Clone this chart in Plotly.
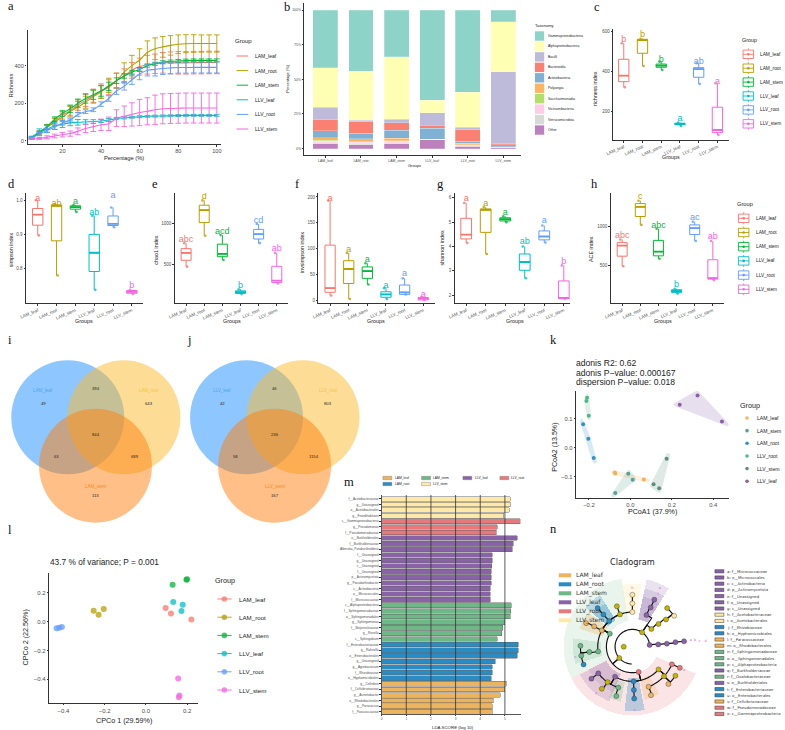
import numpy as np
import plotly.graph_objects as go

W, H = 785, 730
SANS = "Liberation Sans"
SERIF = "Liberation Serif"
DEJAVU = "DejaVu Sans"
AXIS_DARK = "#333333"
TICK_TEXT = "#4D4D4D"
MINUS = "\u2212"

GROUPS = ["LAM_leaf", "LAM_root", "LAM_stem", "LLV_leaf", "LLV_root", "LLV_stem"]
GROUP_COLORS = ["#F8766D", "#B79F00", "#00BA38", "#00BFC4", "#619CFF", "#F564E3"]

# --- rarefaction curves -------------------------------------------------
PERCENT = [4, 8, 12, 16, 20, 24, 28, 32, 36, 40, 44, 48, 52, 56, 60, 64, 68, 72, 76, 80, 84, 88, 92, 96, 100]
RICH_LAM_LEAF = [15, 45, 75, 105, 135, 160, 190, 215, 240, 265, 285, 320, 345, 375, 395, 405, 410, 415, 415, 415, 415, 416, 416, 417, 417]
RICH_LAM_ROOT = [12, 40, 70, 100, 125, 155, 180, 205, 235, 260, 295, 320, 365, 400, 430, 470, 490, 500, 508, 514, 517, 518, 518, 518, 518]
RICH_LAM_STEM = [15, 45, 75, 115, 145, 170, 200, 225, 245, 265, 290, 320, 345, 365, 380, 400, 410, 418, 422, 425, 427, 428, 428, 428, 428]
RICH_LLV_LEAF = [18, 45, 62, 78, 88, 95, 98, 100, 102, 105, 110, 118, 122, 125, 128, 130, 131, 132, 133, 134, 135, 135, 135, 135, 135]
RICH_LLV_ROOT = [14, 35, 55, 72, 95, 110, 140, 155, 165, 195, 225, 265, 290, 325, 355, 375, 380, 385, 388, 390, 390, 391, 391, 391, 391]
RICH_LLV_STEM = [10, 12, 18, 25, 32, 38, 50, 65, 75, 85, 90, 120, 130, 140, 150, 157, 165, 170, 172, 173, 174, 174, 174, 174, 174]
ERR_LAM_LEAF = [5, 8, 12, 15, 20, 25, 28, 32, 35, 38, 40, 40, 38, 42, 45, 50, 52, 55, 58, 60, 60, 60, 60, 60, 60]
ERR_LAM_ROOT = [5, 8, 12, 18, 22, 28, 30, 32, 35, 35, 38, 40, 50, 55, 60, 62, 58, 55, 52, 50, 48, 47, 46, 46, 46]
ERR_LAM_STEM = [5, 6, 10, 12, 15, 20, 22, 25, 25, 28, 22, 15, 12, 10, 10, 8, 8, 8, 8, 8, 8, 8, 8, 8, 8]
ERR_LLV_LEAF = [6, 18, 18, 18, 18, 15, 15, 12, 10, 8, 8, 6, 6, 5, 5, 5, 5, 5, 5, 5, 5, 5, 5, 5, 5]
ERR_LLV_ROOT = [5, 8, 10, 12, 12, 10, 10, 10, 10, 12, 15, 18, 20, 25, 30, 30, 35, 32, 32, 30, 30, 30, 30, 30, 30]
ERR_LLV_STEM = [4, 5, 8, 10, 12, 14, 18, 22, 26, 30, 36, 45, 55, 62, 70, 72, 78, 80, 80, 80, 80, 80, 80, 80, 80]

# --- class-level composition (percent per group) ------------------------
TAXA = ["Gammaproteobacteria", "Alphaproteobacteria", "Bacilli", "Bacteroidia", "Actinobacteria",
        "Polyangia", "Saccharimonadia", "Vicinamibacteria", "Verrucomicrobiia", "Other"]
TAXA_COLORS = ["#8DD3C7", "#FFFFB3", "#BEBADA", "#FB8072", "#80B1D3", "#FDB462", "#B3DE69", "#FCCDE5", "#D9D9D9", "#BC80BD"]
COMP_LAM_LEAF = [41.7, 28.4, 9.2, 8.0, 4.8, 2.0, 0.5, 1.2, 0.7, 3.5]
COMP_LAM_ROOT = [44.3, 35.4, 1.0, 8.2, 4.1, 1.9, 0.5, 1.0, 0.7, 2.9]
COMP_LAM_STEM = [33.6, 45.3, 2.4, 5.3, 6.0, 1.7, 0.5, 1.0, 0.6, 3.6]
COMP_LLV_LEAF = [65.0, 9.2, 8.9, 2.2, 8.0, 0.0, 0.0, 0.0, 0.0, 6.7]
COMP_LLV_ROOT = [59.3, 25.3, 1.7, 8.4, 1.4, 1.2, 0.3, 0.5, 0.3, 1.5]
COMP_LLV_STEM = [8.4, 36.1, 52.0, 0.7, 1.4, 0.1, 0.1, 0.1, 0.1, 0.9]

# --- alpha diversity box statistics: low, q1, median, q3, high ----------
RICHNESS_STATS = [[322, 350, 380, 462, 542], [428, 492, 558, 562, 565], [408, 422, 430, 438, 450],
                  [128, 135, 138, 142, 145], [338, 372, 413, 420, 442], [83, 95, 108, 222, 342]]
RICHNESS_LETTERS = ["b", "b", "b", "a", "ab", "a"]
RICHNESS_LETTER_Y = [558, 583, 462, 162, 448, 348]

SIMPSON_STATS = [[.897, .927, .958, .976, 1.0], [.779, .881, .984, .986, .988], [.966, .974, .980, .984, .986],
                 [.737, .791, .846, .900, .955], [.921, .926, .931, .954, .979], [.725, .727, .731, .735, .737]]
SIMPSON_LETTERS = ["a", "ab", "a", "ab", "a", "b"]
SIMPSON_LETTER_Y = [1.005, .99, .995, .964, 1.014, .748]

CHAO1_STATS = [[477, 554, 643, 694, 760], [849, 1008, 1159, 1217, 1275], [558, 597, 632, 748, 857],
               [147, 155, 171, 186, 205], [760, 810, 868, 926, 992], [275, 287, 310, 481, 643]]
CHAO1_LETTERS = ["abc", "d", "acd", "b", "cd", "ab"]
CHAO1_LETTER_Y = [802, 1322, 899, 244, 1027, 694]

INVSIMPSON_STATS = [[10, 16, 24, 107, 193], [3, 33, 61, 77, 92], [31, 43, 57, 65, 72],
                    [3, 6.5, 12, 17, 24], [12, 12, 16, 30, 43], [1.3, 1.3, 4, 6, 7]]
INVSIMPSON_LETTERS = ["a"] * 6
INVSIMPSON_LETTER_Y = [197, 99, 79, 29, 51, 12]

SHANNON_STATS = [[4.14, 4.31, 4.49, 5.16, 5.79], [3.69, 4.58, 5.52, 5.53, 5.62], [5.0, 5.05, 5.12, 5.18, 5.24],
                 [2.69, 3.02, 3.36, 3.69, 4.0], [4.16, 4.27, 4.41, 4.64, 4.86], [1.85, 1.85, 1.88, 2.58, 3.22]]
SHANNON_LETTERS = ["a", "a", "a", "ab", "a", "b"]
SHANNON_LETTER_Y = [5.97, 5.75, 5.38, 4.19, 5.04, 3.38]

ACE_STATS = [[487, 617, 754, 792, 833], [1021, 1129, 1254, 1296, 1333], [583, 621, 675, 821, 971],
             [133, 146, 167, 183, 196], [812, 896, 979, 1021, 1062], [308, 321, 333, 571, 812]]
ACE_LETTERS = ["abc", "c", "abc", "b", "ac", "ab"]
ACE_LETTER_Y = [875, 1387, 1012, 242, 1117, 867]

# --- Venn counts --------------------------------------------------------
VENN_I_NAMES = ["LAM_leaf", "LAM_root", "LAM_stem"]
VENN_I_COUNTS = [49, 643, 113, 394, 63, 689, 844]
VENN_J_NAMES = ["LLV_leaf", "LLV_root", "LLV_stem"]
VENN_J_COUNTS = [42, 803, 167, 46, 58, 1154, 236]

# --- PCoA coordinates ---------------------------------------------------
PCOA_GROUPS = ["LAM_leaf", "LAM_stem", "LAM_root", "LLV_root", "LLV_stem", "LLV_leaf"]
PCOA_COLORS = ["#F0B35A", "#5A9E96", "#2E94C8", "#52B788", "#5F8F80", "#8B5FA8"]
PCOA_X = [[-.075, -.073, .065], [-.010, .011, -.073], [-.228, -.203, -.177],
          [-.209, -.212, -.201], [.175, .112, .139], [.324, .238, .442]]
PCOA_Y = [[-.085, -.088, -.109], [-.089, -.110, -.155], [.080, .031, -.035],
          [.171, .160, .109], [-.038, -.125, -.139], [.179, .147, .090]]

# --- constrained PCoA coordinates ---------------------------------------
CPCO_X = [[.096, .122, .221], [-.253, -.229, -.204], [.130, .197, .200],
          [.133, .179, .173], [-.433, -.420, -.407], [.157, .163, .160]]
CPCO_Y = [[.095, .056, .016], [.076, .049, .088], [.257, .292, .294],
          [.137, .118, .074], [-.046, -.042, -.037], [-.394, -.512, -.525]]

# --- LEfSe LDA scores, top to bottom ------------------------------------
LDA_GROUP_ORDER = ["LLV_stem", "LLV_root", "LLV_leaf", "LAM_stem", "LAM_root", "LAM_leaf"]
LEFSE_COLORS = {"LAM_leaf": "#EDB45F", "LAM_root": "#2A8CC4", "LAM_stem": "#6DB887",
                "LLV_leaf": "#8A62A8", "LLV_root": "#E7787C", "LLV_stem": "#FFE9A8"}
LDA_LABELS = ["f__Acetobacteraceae", "g__Unassigned", "o__Acetobacterales", "g__Frondihabitans",
              "c__Gammaproteobacteria", "g__Pseudomonas", "f__Pseudomonadaceae",
              "o__Burkholderiales", "f__Burkholderiaceae", "Alberetia_Paraburkholderia", "f__Unassigned",
              "g__Unassigned", "c__Unassigned", "f__Unassigned", "p__Actinomycetota", "g__Pseudarthrobacter",
              "c__Actinobacteria", "o__Micrococcales", "f__Micrococcaceae",
              "c__Alphaproteobacteria", "f__Sphingomonadaceae", "o__Sphingomonadales", "g__Sphingomonas",
              "f__Beijerinckiaceae", "g__Rosella", "c__Sphingobium",
              "f__Enterobacteriaceae", "g__Rahnella", "o__Enterobacterales", "g__Unassigned",
              "g__Agrobacterium", "f__Rhizobiaceae", "o__Hyphomicrobiales",
              "g__Cellvibrio", "f__Cellvibrionaceae", "g__Acinetobacter", "o__Rhodobacterales",
              "g__Paracoccus", "f__Paracoccaceae"]
LDA_SCORES = [5.21, 5.22, 5.17, 4.95, 5.62, 4.69, 4.65, 5.50, 5.33, 5.29, 4.48, 4.48, 4.46, 4.45, 4.44, 4.44,
              4.41, 4.41, 4.40, 5.25, 5.23, 5.21, 5.00, 4.91, 4.88, 4.69, 5.54, 5.54, 5.51, 4.61, 4.48, 4.48,
              4.45, 5.05, 5.00, 4.81, 4.53, 4.48, 4.48]
LDA_COUNTS = [4, 3, 12, 7, 7, 6]

# --- cladogram tree: angle (deg), level, parent index, clade ------------
TREE_ANGLE = [180, 221, 56, 6, 150, 284, 43, 5, 111, 132, 152, 188, 240, 272, 319, 66, 41, 5, 90,
              111, 132, 152, 187, 218, 235, 251, 272, 292, 317, 336, 65, 39, 6, 90,
              90, 132, 153, 179, 190, 200, 218, 234, 252, 272, 291, 314, 326, 336, 65, 48, 36.5, 6]
TREE_LEVEL = [1, 2, 2, 2, 3, 3, 3, 3, 4, 4, 4, 4, 4, 4, 4, 4, 4, 4, 4,
              5, 5, 5, 5, 5, 5, 5, 5, 5, 5, 5, 5, 5, 5, 5,
              6, 6, 6, 6, 6, 6, 6, 6, 6, 6, 6, 6, 6, 6, 6, 6, 6, 6]
TREE_PARENT = [-1, -1, -1, -1, 1, 1, 2, 3, 4, 4, 4, 4, 5, 5, 5, 2, 6, 7, 4,
               8, 9, 10, 11, 12, 12, 12, 13, 14, 14, 14, 15, 16, 17, 18,
               33, 20, 21, 22, 22, 22, 23, 24, 25, 26, 27, 28, 28, 29, 30, 31, 31, 32]
TREE_CLADE = ["none", "none", "none", "LLV_leaf", "LAM_stem", "LLV_root", "none", "LLV_leaf",
              "none", "LAM_root", "LAM_leaf", "LAM_stem", "LLV_leaf", "LAM_root", "none", "LLV_leaf", "none",
              "LLV_leaf", "LLV_stem",
              "none", "LAM_root", "LAM_leaf", "LAM_stem", "LLV_leaf", "none", "LAM_stem", "LAM_root", "LAM_leaf",
              "none", "LLV_root", "LLV_leaf", "none", "LLV_leaf", "LLV_stem",
              "LLV_stem", "LAM_root", "LAM_leaf", "LAM_stem", "LAM_stem", "LAM_root", "LLV_leaf", "none",
              "LAM_stem", "LAM_root", "LAM_leaf", "LAM_leaf", "none", "LLV_root", "LLV_leaf", "none",
              "LLV_stem", "LLV_leaf"]
WEDGE_CLADE = ["LLV_root", "LAM_stem", "LLV_leaf", "LLV_leaf", "LLV_leaf", "LLV_stem", "LAM_root", "LAM_root",
               "LAM_leaf", "LAM_stem", "LLV_leaf", "LLV_leaf", "LAM_stem", "LAM_root", "LAM_leaf"]
WEDGE_START = [207, 99, 58, 58, 58, 82, 122, 122, 142, 172, 208, 208, 245, 263, 283]
WEDGE_END = [337, 207, 78, 78, 78, 100, 140, 140, 161, 197, 247, 247, 258, 281, 300]
WEDGE_INNER = [79, 79, 85, 85, 85, 100, 95, 95, 95, 95, 90, 90, 110, 95, 100]
WEDGE_OUTER = [208, 208, 208, 180, 155, 190, 185, 155, 170, 180, 180, 150, 170, 195, 165]
WEDGE_ALPHA = [.2, .16, .18, .18, .2, .3, .25, .25, .3, .2, .2, .15, .25, .3, .25]
CLADE_KEYS = ["a: f__Micrococcaceae", "b: o__Micrococcales", "c: c__Actinobacteria", "d: p__Actinomycetota",
              "e: f__Unassigned", "f: o__Unassigned", "g: c__Unassigned", "h: f__Acetobacteraceae",
              "i: o__Acetobacterales", "j: f__Rhizobiaceae", "k: o__Hyphomicrobiales", "l: f__Paracoccaceae",
              "m: o__Rhodobacterales", "n: f__Sphingomonadaceae", "o: o__Sphingomonadales",
              "p: c__Alphaproteobacteria", "q: f__Burkholderiaceae", "r: f__Oxalobacteraceae",
              "s: o__Burkholderiales", "t: f__Enterobacteriaceae", "u: o__Enterobacterales",
              "v: f__Cellvibrionaceae", "w: f__Pseudomonadaceae", "x: c__Gammaproteobacteria"]
CLADE_KEY_GROUP = ["LLV_leaf"] * 7 + ["LLV_stem"] * 2 + ["LAM_root"] * 2 + ["LAM_leaf"] * 2 + ["LAM_stem"] * 3 + \
                  ["LLV_leaf", "LAM_stem", "LLV_leaf", "LAM_root", "LAM_root", "LAM_leaf", "LLV_root", "LLV_root"]
OUTER_TAGS = ["a", "b", "c", "d", "e", "f", "h", "j", "n", "q", "s", "x"]
OUTER_TAG_ANGLE = [6, 6, 5, 4, 65, 64, 90, 132, 190, 232, 272, 336]
OUTER_TAG_RADIUS = [178, 190, 205, 222, 196, 178, 178, 172, 175, 178, 192, 172]


def fx(px):
    return px / W


def fy(py):
    return 1 - py / H


def rgba(hex_color, alpha):
    r, g, b = (int(hex_color[i:i + 2], 16) for i in (1, 3, 5))
    return f"rgba({r},{g},{b},{alpha})"


fig = go.Figure()
annotations, shapes, axis_layout = [], [], {}
next_axis = [1]


def note(px, py, text, size=6.0, color="#222222", anchor="left", angle=0, family=SANS):
    # annotation boxes carry 2 px of padding on the text's left side
    px = px - 2 if anchor == "left" else px
    annotations.append(dict(x=fx(px), y=fy(py), xref="paper", yref="paper", text=text, showarrow=False,
                            xanchor=anchor, yanchor="middle", textangle=angle, align=anchor,
                            font=dict(size=size, color=color, family=family)))


def make_axes(left, right, top, bottom, xrange, yrange, xticks=None, yticks=None, xtext=None, ytext=None,
              xtitle=None, ytitle=None, tick_size=5.0, title_size=6.0, xangle=0, line_color=AXIS_DARK,
              line_width=1.2):
    n = next_axis[0]
    next_axis[0] += 1
    ax = "" if n == 1 else str(n)
    common = dict(showgrid=False, zeroline=False, showline=True, linecolor=line_color, linewidth=line_width,
                  ticks="outside", ticklen=1.5, tickwidth=0.6, tickcolor=AXIS_DARK, tickmode="array",
                  tickfont=dict(size=tick_size, color=TICK_TEXT, family=SANS))
    axis_layout[f"xaxis{ax}"] = dict(domain=[fx(left), fx(right)], range=xrange, anchor=f"y{ax}", tickvals=xticks,
                                     ticktext=xtext, tickangle=xangle, **common)
    axis_layout[f"yaxis{ax}"] = dict(domain=[fy(bottom), fy(top)], range=yrange, anchor=f"x{ax}", tickvals=yticks,
                                     ticktext=ytext, **common)
    if xtitle:
        note(xtitle[1], xtitle[2], xtitle[0], title_size, "#222222", "center")
    if ytitle:
        note(ytitle[1], ytitle[2], ytitle[0], title_size, "#222222", "center", -90)
    return f"x{ax}", f"y{ax}"


def rect(x0, y0, x1, y1, fill="rgba(0,0,0,0)", line="rgba(0,0,0,0)", width=0.6):
    shapes.append(dict(type="rect", xref="paper", yref="paper", x0=fx(x0), x1=fx(x1), y0=fy(y0), y1=fy(y1),
                       fillcolor=fill, line=dict(color=line, width=width)))


def segment(x0, y0, x1, y1, color, width=1.0):
    shapes.append(dict(type="line", xref="paper", yref="paper", x0=fx(x0), x1=fx(x1), y0=fy(y0), y1=fy(y1),
                       line=dict(color=color, width=width)))


def disc(cx, cy, r, fill, line="rgba(0,0,0,0)"):
    shapes.append(dict(type="circle", xref="paper", yref="paper", x0=fx(cx - r), x1=fx(cx + r),
                       y0=fy(cy + r), y1=fy(cy - r), fillcolor=fill, line=dict(color=line, width=0.5)))


# ---------- a: rarefaction curves ----------
xa, ya = make_axes(20.7, 216, 30, 144, [1.9, 102.2], [-17.6, 590], [20, 40, 60, 80, 100], [0, 200, 400],
                   xtitle=("Percentage (%)", 118, 158), ytitle=("Richness", 3.6, 86), tick_size=5.6, title_size=5.8)
curves = [RICH_LAM_LEAF, RICH_LAM_ROOT, RICH_LAM_STEM, RICH_LLV_LEAF, RICH_LLV_ROOT, RICH_LLV_STEM]
errors = [ERR_LAM_LEAF, ERR_LAM_ROOT, ERR_LAM_STEM, ERR_LLV_LEAF, ERR_LLV_ROOT, ERR_LLV_STEM]
for name, color, vals, err in zip(GROUPS, GROUP_COLORS, curves, errors):
    fig.add_trace(go.Scatter(x=PERCENT, y=vals, mode="lines", name=name, xaxis=xa, yaxis=ya, showlegend=False,
                             line=dict(color=color, width=1.1, shape="spline"),
                             error_y=dict(type="data", array=err, color=color, thickness=0.9, width=2.8)))
note(230.3, 41.3, "Group", 6)
for i, (name, color) in enumerate(zip(GROUPS, GROUP_COLORS)):
    y = 56 + 14.6 * i
    segment(231.7, y, 243.3, y, color, 1)
    note(250, y, name, 5)

# ---------- b: stacked composition ----------
xb, yb = make_axes(300, 518.7, 3, 155, [-0.593, 5.5], [-4.65, 105.2], list(range(6)), [0, 25, 50, 75, 100],
                   GROUPS, ["0%", "25%", "50%", "75%", "100%"], xtitle=("Groups", 411, 165.3),
                   ytitle=("Percentage (%)", 283.3, 79), tick_size=3.5, title_size=4, line_width=1)
composition = [COMP_LAM_LEAF, COMP_LAM_ROOT, COMP_LAM_STEM, COMP_LLV_LEAF, COMP_LLV_ROOT, COMP_LLV_STEM]
for k in range(len(TAXA) - 1, -1, -1):
    fig.add_trace(go.Bar(x=list(range(6)), y=[c[k] for c in composition], name=TAXA[k], xaxis=xb, yaxis=yb,
                         width=0.7, showlegend=False,
                         marker=dict(color=TAXA_COLORS[k], line=dict(color="rgba(255,255,255,0.6)", width=0.4))))
note(532.3, 25.7, "Taxonomy", 4.1)
for i, (name, color) in enumerate(zip(TAXA, TAXA_COLORS)):
    y = 36 + 10.45 * i
    rect(532.7, y - 4.7, 542, y + 4.7, color)
    note(546, y, name, 3.5)


# ---------- c-h: alpha diversity boxplots ----------
def box_panel(left, right, top, bottom, center0, step, stats, letters, letter_y, ylim, yticks, ytext,
              xtitle_at, ytitle, ytitle_at, box_frac=0.55):
    xr = [(left - center0) / step, (right - center0) / step]
    xx, yy = make_axes(left, right, top, bottom, xr, ylim, list(range(6)), yticks, GROUPS, ytext,
                       xtitle=("Groups", *xtitle_at), ytitle=(ytitle, *ytitle_at),
                       tick_size=4.5, title_size=5.4, xangle=-24)
    half = box_frac / 2
    for i, (color, st) in enumerate(zip(GROUP_COLORS, stats)):
        low, q1, med, q3, high = st
        fig.add_trace(go.Box(x=[i], lowerfence=[low], q1=[q1], median=[med], q3=[q3], upperfence=[high],
                             xaxis=xx, yaxis=yy, width=box_frac, whiskerwidth=0, fillcolor="rgba(0,0,0,0)",
                             line=dict(color=color, width=1), name=GROUPS[i], showlegend=False))
        fig.add_trace(go.Scatter(x=[i - half, i + half], y=[med, med], mode="lines", xaxis=xx, yaxis=yy,
                                 line=dict(color=color, width=1.8), showlegend=False, hoverinfo="skip"))
        fig.add_trace(go.Scatter(x=[i + 0.06, i - 0.1], y=[low, high], mode="markers", xaxis=xx, yaxis=yy,
                                 marker=dict(color=color, size=2.6, opacity=0.8), showlegend=False, hoverinfo="skip"))
    fig.add_trace(go.Scatter(x=list(range(6)), y=letter_y, mode="text", text=letters, xaxis=xx, yaxis=yy,
                             textposition="middle center", showlegend=False, hoverinfo="skip",
                             textfont=dict(size=9, color=GROUP_COLORS, family=SANS)))


box_panel(611.7, 728, 29.3, 140, 622.3, 18.9, RICHNESS_STATS, RICHNESS_LETTERS, RICHNESS_LETTER_Y,
          [58, 612], [200, 400, 600], ["200", "400", "600"], (670, 156.7), "richness index", (594, 88.3))
box_panel(19.3, 137.7, 193, 303.3, 31, 19, SIMPSON_STATS, SIMPSON_LETTERS, SIMPSON_LETTER_Y,
          [.6975, 1.0215], [.8, .9, 1.0], ["0.8", "0.9", "1.0"], (78, 321), "simpson index", (4.3, 250))
box_panel(169.3, 284, 193, 303.3, 180.7, 18.3, CHAO1_STATS, CHAO1_LETTERS, CHAO1_LETTER_Y,
          [36, 1364], [500, 1000], ["500", "1000"], (226.7, 321), "chao1 index", (150, 250))
box_panel(314.3, 431.7, 193, 303.3, 326, 18.8, INVSIMPSON_STATS, INVSIMPSON_LETTERS, INVSIMPSON_LETTER_Y,
          [-5.2, 207.7], [0, 50, 100, 150, 200], ["0", "50", "100", "150", "200"], (372.7, 321),
          "invsimpson index", (297.7, 252))
box_panel(451.7, 568, 193, 303.3, 463.3, 19.7, SHANNON_STATS, SHANNON_LETTERS, SHANNON_LETTER_Y,
          [1.66, 6.2], [2, 3, 4, 5, 6], ["2", "3", "4", "5", "6"], (512.7, 321), "shannon index", (439.3, 248))
box_panel(609.3, 723.3, 193, 303.3, 620.7, 18.3, ACE_STATS, ACE_LETTERS, ACE_LETTER_Y,
          [8, 1433], [500, 1000], ["500", "1000"], (661.7, 320.7), "ACE index", (589.3, 249))


def box_legend(title_x, title_y, cx, y0, step, label_x, label_size, title_size):
    note(title_x, title_y, "Group", title_size)
    for i, (name, color) in enumerate(zip(GROUPS, GROUP_COLORS)):
        y = y0 + step * i
        segment(cx, y - 6, cx, y + 6, color, 0.8)
        rect(cx - 5.3, y - 4.2, cx + 5.3, y + 4.2, "white", color, 0.9)
        segment(cx - 5.3, y, cx + 5.3, y, color, 0.9)
        disc(cx, y, 1.3, color)
        note(label_x, y, name, label_size)


box_legend(741.7, 40, 748, 54.3, 13.9, 760, 4.8, 5.4)
box_legend(736.7, 204.3, 743.3, 218.3, 14.2, 755.7, 4.75, 5.7)

# ---------- i, j: Venn diagrams ----------
VENN_FILLS = ["rgba(30,144,255,0.5)", "rgba(252,185,45,0.5)", "rgba(255,127,14,0.5)"]
VENN_TEXT = ["#4AA3F5", "#F7C33F", "#F58B2B"]


def venn(left_cx, right_cx, low_cx, names, counts):
    top_cy, low_cy, radius = 417.3, 465.7, 57
    for cx, cy, fill in zip([left_cx, right_cx, low_cx], [top_cy, top_cy, low_cy], VENN_FILLS):
        disc(cx, cy, radius, fill)
    note(left_cx - 24.6, 390, names[0], 4.5, VENN_TEXT[0], "center")
    note(right_cx + 25.3, 390, names[1], 4.5, VENN_TEXT[1], "center")
    note(low_cx, 486.3, names[2], 4.5, VENN_TEXT[2], "center")
    note(left_cx - 24.6, 403, str(counts[0]), 4.2, "#222222", "center")
    note(right_cx + 25.3, 403, str(counts[1]), 4.2, "#222222", "center")
    note(low_cx, 495.3, str(counts[2]), 4.2, "#222222", "center")
    note(low_cx, 388.5, str(counts[3]), 4.2, "#222222", "center")
    note(low_cx - 39.3, 456.7, str(counts[4]), 4.2, "#222222", "center")
    note(low_cx + 40, 456.7, str(counts[5]), 4.2, "#222222", "center")
    note(low_cx, 434, str(counts[6]), 4.2, "#222222", "center")


venn(61.3, 118, 89.3, VENN_I_NAMES, VENN_I_COUNTS)
venn(241.7, 298.7, 270, VENN_J_NAMES, VENN_J_COUNTS)


# ---------- k: PCoA with group hulls ----------
def convex_hull(points):
    pts = sorted(set(points))

    def half(seq):
        out = []
        for p in seq:
            while len(out) > 1 and (out[-1][0] - out[-2][0]) * (p[1] - out[-2][1]) - \
                    (out[-1][1] - out[-2][1]) * (p[0] - out[-2][0]) <= 0:
                out.pop()
            out.append(p)
        return out[:-1]

    return half(pts) + half(pts[::-1])


PCOA_X_SCALE, PCOA_Y_SCALE = 209.0, 291.7   # pixels per data unit
xk, yk = make_axes(574.3, 728.3, 391, 497.7, [-.2616, .475], [-.171, .194], [-.2, 0, .2, .4], [-.1, 0, .1],
                   [MINUS + "0.2", "0.0", "0.2", "0.4"], [MINUS + "0.1", "0.0", "0.1"],
                   xtitle=("PCoA1 (37.9%)", 651.7, 511.7), ytitle=("PCoA2 (13.5%)", 553, 447.7),
                   tick_size=5.8, title_size=7.1, line_width=0.9)
circle = np.linspace(0, 2 * np.pi, 16, endpoint=False)
for name, color, xs, ys in zip(PCOA_GROUPS, PCOA_COLORS, PCOA_X, PCOA_Y):
    xs, ys = np.array(xs), np.array(ys)
    cx, cy = xs.mean(), ys.mean()
    grown_x = (cx + (xs - cx) * 1.2) * PCOA_X_SCALE
    grown_y = (cy + (ys - cy) * 1.2) * PCOA_Y_SCALE
    cloud = [(float(gx + 2.2 * np.cos(a)), float(gy + 2.2 * np.sin(a))) for gx, gy in zip(grown_x, grown_y) for a in circle]
    hull = convex_hull(cloud)
    hull.append(hull[0])
    fig.add_trace(go.Scatter(x=[p[0] / PCOA_X_SCALE for p in hull], y=[p[1] / PCOA_Y_SCALE for p in hull],
                             mode="lines", fill="toself", xaxis=xk, yaxis=yk, line=dict(color="rgba(0,0,0,0)", width=0),
                             fillcolor=rgba(color, 0.2), showlegend=False, hoverinfo="skip"))
    fig.add_trace(go.Scatter(x=xs, y=ys, mode="markers", name=name, xaxis=xk, yaxis=yk, showlegend=False,
                             marker=dict(color=color, size=4)))
note(574.3, 363.3, "adonis R2: 0.62", 8.6)
note(574.3, 372.7, f"adonis P{MINUS}value: 0.000167", 8.6)
note(574.3, 382, f"dispersion P{MINUS}value: 0.018", 8.6)
note(740, 405, "Group", 7.2)
for i, (name, color) in enumerate(zip(PCOA_GROUPS, PCOA_COLORS)):
    y = 418 + 12.65 * i
    disc(746.7, y, 1.8, color)
    note(757, y, name, 5.1)

# ---------- l: constrained PCoA ----------
xl, yl = make_axes(42.7, 192.7, 573.3, 702.7, [-.468, .253], [-.5625, .336], [-.4, -.2, 0, .2], [-.4, -.2, 0, .2],
                   [MINUS + "0.4", MINUS + "0.2", "0.0", "0.2"], [MINUS + "0.4", MINUS + "0.2", "0.0", "0.2"],
                   xtitle=("CPCo 1 (29.59%)", 118, 720.3), ytitle=("CPCo 2 (22.56%)", 18.3, 637.3),
                   tick_size=6, title_size=7.2)
for name, color, xs, ys in zip(GROUPS, GROUP_COLORS, CPCO_X, CPCO_Y):
    fig.add_trace(go.Scatter(x=xs, y=ys, mode="markers", name=name, xaxis=xl, yaxis=yl, showlegend=False,
                             marker=dict(color=color, size=6, opacity=0.75)))
note(43, 562.3, "43.7 % of variance; P = 0.001", 8.3)
note(210.3, 580.7, "Group", 7.2)
for i, (name, color) in enumerate(zip(GROUPS, GROUP_COLORS)):
    y = 599 + 18.2 * i
    segment(212.3, y, 226.7, y, color, 0.9)
    disc(219.3, y, 2.8, rgba(color, 0.75))
    note(234, y, name, 6.2)

# ---------- m: LDA scores ----------
lda_pos = list(range(len(LDA_SCORES)))
xm, ym = make_axes(378, 518.3, 495, 714, [0, 5.64], [38.4, -0.7], [0, 1, 2, 3, 4, 5], lda_pos, None, LDA_LABELS,
                   xtitle=("LDA SCORE (log 10)", 450, 727.3), tick_size=3.2, title_size=4.4,
                   line_color="#555555", line_width=0.7)
start = 0
for group, count in zip(LDA_GROUP_ORDER, LDA_COUNTS):
    fig.add_trace(go.Bar(y=lda_pos[start:start + count], x=LDA_SCORES[start:start + count], orientation="h",
                         name=group, xaxis=xm, yaxis=ym, width=0.84, showlegend=False,
                         marker=dict(color=LEFSE_COLORS[group], line=dict(color="#666666", width=0.5))))
    start += count
for v in [1, 2, 3, 4, 5]:
    shapes.append(dict(type="line", xref=xm, yref=f"{ym} domain", x0=v, x1=v, y0=0, y1=1, layer="above",
                       line=dict(color="#333333", width=0.8)))
M_LEGEND = [("LAM_leaf", 379.3, 478), ("LAM_stem", 418.3, 478), ("LLV_leaf", 460, 478), ("LLV_root", 497.3, 478),
            ("LAM_root", 379.3, 484), ("LLV_stem", 418.3, 484)]
for group, px, py in M_LEGEND:
    rect(px, py - 1.7, px + 9, py + 1.7, LEFSE_COLORS[group], "#777777", 0.4)
    note(px + 11.7, py, group, 3.3)

# ---------- n: cladogram ----------
for clade, a0, a1, r0, r1, alpha in zip(WEDGE_CLADE, WEDGE_START, WEDGE_END, WEDGE_INNER, WEDGE_OUTER, WEDGE_ALPHA):
    fig.add_trace(go.Barpolar(theta=[(a0 + a1) / 2], width=[a1 - a0], base=[r0], r=[r1 - r0], subplot="polar",
                              marker=dict(color=rgba(LEFSE_COLORS[clade], alpha), line=dict(width=0)),
                              showlegend=False, hoverinfo="skip"))
LEVEL_R = 26.2
edge_t, edge_r = [], []
for ang, lev, par in zip(TREE_ANGLE, TREE_LEVEL, TREE_PARENT):
    if par < 0:
        continue
    pa, pl = TREE_ANGLE[par], TREE_LEVEL[par]
    arc = np.linspace(pa, ang, max(2, int(abs(ang - pa) / 2) + 2)).tolist()
    edge_t += [pa] + arc + [None]
    edge_r += [pl * LEVEL_R] + [lev * LEVEL_R] * len(arc) + [None]
first_arc = np.linspace(6, 268, 132).tolist()
edge_t += first_arc
edge_r += [2 * LEVEL_R] * len(first_arc)
fig.add_trace(go.Scatterpolar(theta=edge_t, r=edge_r, mode="lines", subplot="polar", connectgaps=False,
                              line=dict(color="#111111", width=1.15), showlegend=False, hoverinfo="skip"))
node_fill = [LEFSE_COLORS.get(c, "#C4B500") for c in TREE_CLADE]
fig.add_trace(go.Scatterpolar(theta=TREE_ANGLE, r=[lv * LEVEL_R for lv in TREE_LEVEL], mode="markers", subplot="polar",
                              marker=dict(color=node_fill, size=5, line=dict(color="#333333", width=0.4)),
                              showlegend=False, hoverinfo="skip"))
fig.add_trace(go.Scatterpolar(theta=OUTER_TAG_ANGLE, r=OUTER_TAG_RADIUS, mode="text", text=OUTER_TAGS, subplot="polar",
                              textfont=dict(size=3.5, color="#D65FD0", family=DEJAVU), showlegend=False, hoverinfo="skip"))
note(630.7, 561.7, "Cladogram", 8.2, "#222222", "center", family=DEJAVU)
for i, group in enumerate(["LAM_leaf", "LAM_root", "LAM_stem", "LLV_leaf", "LLV_root", "LLV_stem"]):
    y = 575.3 + 9 * i
    rect(556.7, y - 2, 569.3, y + 2, LEFSE_COLORS[group])
    note(574, y, group, 6, "#333333", family=DEJAVU)
for i, (key, group) in enumerate(zip(CLADE_KEYS, CLADE_KEY_GROUP)):
    y = 571.3 + 6.2 * i
    rect(714.3, y - 1.6, 723.3, y + 1.6, LEFSE_COLORS[group], "#333333", 0.5)
    note(726, y, key, 3.8, "#333333", family=DEJAVU)

# ---------- panel letters ----------
PANEL_TAGS = [("a", 0.5, 6.5), ("b", 279, 7), ("c", 592, 7), ("d", 0.5, 184), ("e", 146, 184), ("f", 291, 184),
              ("g", 434, 184), ("h", 589, 184), ("i", 1, 340.4), ("j", 182, 340.4), ("k", 548, 340.4),
              ("l", 1, 529.7), ("m", 340, 482.4), ("n", 548, 528.7)]
for tag, px, py in PANEL_TAGS:
    note(px, py, tag, 12.5, "#111111", family=SERIF)

R_MAX = 230
R_PX = R_MAX / 3
CX, CY = 631, 646.7
fig.update_layout(
    width=W, height=H, autosize=False, margin=dict(l=0, r=0, t=0, b=0), paper_bgcolor="white", plot_bgcolor="white",
    showlegend=False, barmode="stack", boxmode="overlay", annotations=annotations, shapes=shapes,
    font=dict(family=SANS),
    polar=dict(domain=dict(x=[fx(CX - R_PX), fx(CX + R_PX)], y=[fy(CY + R_PX), fy(CY - R_PX)]),
               bgcolor="rgba(0,0,0,0)", barmode="overlay", bargap=0,
               radialaxis=dict(visible=False, range=[0, R_MAX]),
               angularaxis=dict(visible=False, rotation=0, direction="counterclockwise")),
    **axis_layout)
fig.write_html("out.html")
